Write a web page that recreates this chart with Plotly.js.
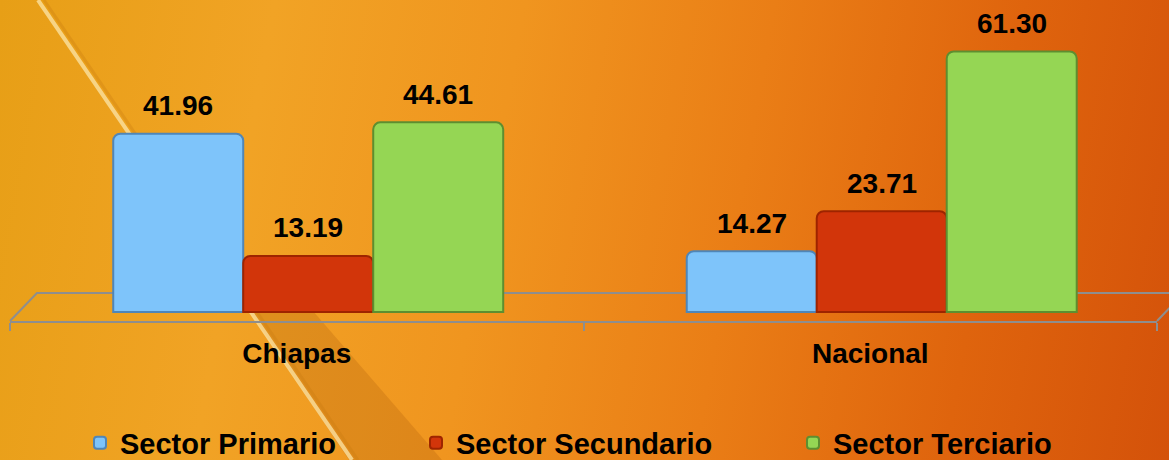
<!DOCTYPE html>
<html>
<head>
<meta charset="utf-8">
<script src="https://cdn.plot.ly/plotly-3.0.1.min.js"></script>
<style>
  html, body { margin: 0; padding: 0; width: 1169px; height: 460px; overflow: hidden; }
  body {
    background: linear-gradient(100deg, #E79F16 0%, #F1A325 22%, #F0951F 42%, #EA7E16 62%, #DF640D 82%, #D4520A 100%);
    position: relative;
  }
  #deco { position: absolute; left: 0; top: 0; width: 1169px; height: 460px; }
  #chart { position: absolute; left: 0; top: 0; width: 1169px; height: 460px; }
</style>
</head>
<body>
<svg id="deco" width="1169" height="460">
  <polygon points="240,296 300,296 442,460 349,460" fill="#8A3A00" opacity="0.17"/>
  <line x1="38" y1="0" x2="352" y2="460" stroke="#FBE1A0" stroke-width="4" opacity="0.8"/>
  <line x1="44" y1="0" x2="358" y2="460" stroke="#C87A10" stroke-width="3" opacity="0.3"/>
</svg>
<div id="chart"></div>
<script>
// ---- data ----
const categories = ['Chiapas', 'Nacional'];
const seriesNames = ['Sector Primario', 'Sector Secundario', 'Sector Terciario'];
const primario = [41.96, 14.27];
const secundario = [13.19, 23.71];
const terciario = [44.61, 61.30];

// ---- styling ----
const seriesValues = [primario, secundario, terciario];
const fillColors = ['#7EC4FA', '#D2350A', '#95D654'];
const edgeColors = ['#4F86B8', '#9E2400', '#5E8E30'];
const legendIds = ['legend', 'legend2', 'legend3'];
const legendX = [80, 416, 793];
const bargap = 0.32;
const barW = (1 - bargap) / 3;
const FONT = 'Liberation Sans, Arial, sans-serif';
const boldFont = { family: FONT, size: 28, color: '#000', weight: 'bold' };
const legendFont = { family: FONT, size: 29, color: '#000', weight: 'bold' };

const traces = seriesValues.map((vals, i) => ({
  type: 'bar',
  name: seriesNames[i],
  x: categories,
  y: vals,
  xaxis: 'x', yaxis: 'y',
  legend: legendIds[i],
  marker: { color: fillColors[i], line: { color: edgeColors[i], width: 2 }, cornerradius: 7 },
  hoverinfo: 'skip'
}));

// helper (invisible) trace carrying the category axis with labels and floor line
traces.push({
  type: 'scatter', mode: 'markers',
  x: categories, y: [0, 0],
  xaxis: 'x2', yaxis: 'y',
  marker: { opacity: 0 }, showlegend: false, hoverinfo: 'skip'
});

const annotations = [];
seriesValues.forEach((vals, i) => {
  vals.forEach((v, j) => {
    annotations.push({
      x: j + (i - 1) * barW,
      y: v,
      xref: 'x', yref: 'y',
      text: v.toFixed(2),
      showarrow: false,
      yanchor: 'middle',
      yshift: 28,
      font: boldFont
    });
  });
});

const layout = {
  width: 1169, height: 460,
  paper_bgcolor: 'rgba(0,0,0,0)',
  plot_bgcolor: 'rgba(0,0,0,0)',
  margin: { l: 10, r: 12, t: 0, b: 139, pad: 0 },
  barmode: 'group',
  bargap: bargap,
  bargroupgap: 0,
  showlegend: true,
  xaxis: {
    type: 'category', range: [-0.52, 1.48],
    visible: false, showgrid: false, zeroline: false, fixedrange: true
  },
  xaxis2: {
    type: 'category', overlaying: 'x', anchor: 'y', side: 'bottom',
    categoryorder: 'array', categoryarray: categories,
    range: [-0.5, 1.5],
    showline: true, linecolor: '#8E8E8E', linewidth: 2,
    ticks: 'outside', tickson: 'boundaries', ticklen: 8, tickwidth: 2, tickcolor: '#8E8E8E',
    ticklabelstandoff: 6,
    tickfont: boldFont,
    showgrid: false, zeroline: false, fixedrange: true
  },
  yaxis: {
    range: [-2.12, 73.4],
    visible: false, showgrid: false, zeroline: false, fixedrange: true
  },
  shapes: [{
    type: 'path', xref: 'paper', yref: 'paper',
    path: 'M 0 0 L 0.0235 0.0872 L 1.0235 0.0872 L 1 0',
    line: { color: '#8E8E8E', width: 2 },
    layer: 'below'
  }],
  annotations: annotations
};

legendIds.forEach((id, i) => {
  layout[id] = {
    orientation: 'h',
    xref: 'container', yref: 'container',
    x: legendX[i] / 1169, xanchor: 'left',
    y: 17 / 460, yanchor: 'middle',
    font: legendFont,
    bgcolor: 'rgba(0,0,0,0)'
  };
});

Plotly.newPlot('chart', traces, layout, { displayModeBar: false, staticPlot: true });
</script>
</body>
</html>
